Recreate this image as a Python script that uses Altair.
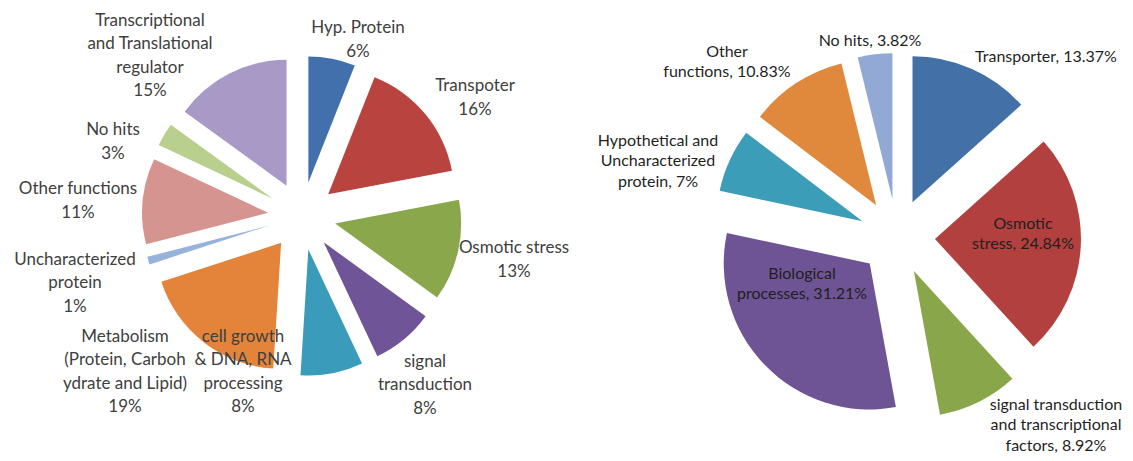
import altair as alt
import pandas as pd

# ---------------- data: left pie ----------------
LEFT_CATEGORIES = [
    "Hyp. Protein", "Transpoter", "Osmotic stress", "signal transduction",
    "cell growth & DNA, RNA processing",
    "Metabolism (Protein, Carbohydrate and Lipid)",
    "Uncharacterized protein", "Other functions", "No hits",
    "Transcriptional and Translational regulator",
]
LEFT_VALUES = [6, 16, 13, 8, 8, 19, 1, 11, 3, 15]
LEFT_LABELS = [
    "Hyp. Protein\n6%",
    "Transpoter\n16%",
    "Osmotic stress\n13%",
    "signal\ntransduction\n8%",
    "cell growth\n& DNA, RNA\nprocessing\n8%",
    "Metabolism\n(Protein, Carboh\nydrate and  Lipid)\n19%",
    "Uncharacterized\nprotein\n1%",
    "Other functions\n11%",
    "No hits\n3%",
    "Transcriptional\nand Translational\nregulator\n15%",
]

# ---------------- data: right pie ----------------
RIGHT_CATEGORIES = [
    "Transporter", "Osmotic stress",
    "signal transduction and transcriptional factors",
    "Biological processes", "Hypothetical and Uncharacterized protein",
    "Other functions", "No hits",
]
RIGHT_VALUES = [13.37, 24.84, 8.92, 31.21, 7, 10.83, 3.82]
RIGHT_LABELS = [
    "Transporter, 13.37%",
    "Osmotic\nstress, 24.84%",
    "signal transduction\nand transcriptional\nfactors, 8.92%",
    "Biological\nprocesses, 31.21%",
    "Hypothetical and\nUncharacterized\nprotein, 7%",
    "Other\nfunctions, 10.83%",
    "No hits, 3.82%",
]

# ---------------- styles / layout ----------------
LEFT_COLORS = ["#4170AD", "#B8433F", "#8AA84B", "#6F5597", "#3A9BBA",
               "#E3843A", "#97B3DB", "#D69491", "#B8CF8D", "#A999C6"]
RIGHT_COLORS = ["#4470A8", "#B2403E", "#89A74A", "#6E5494", "#3C9DB8",
                "#E0883C", "#93A9D5"]

# label block-centre offsets (px) from the pie centre
LEFT_LABEL_DX = [56, 173, 212, 123, -59, -177, -227, -224, -189, -152]
LEFT_LABEL_DY = [-176, -118, 44, 169, 156, 156, 67, -15, -74, -160]
RIGHT_LABEL_DX = [149, 126, 159, -95, -239, -170, -27]
RIGHT_LABEL_DY = [-180, -3, 188, 47, -76, -175, -196]

W, H = 1117, 445
FONT = "Lato"


def pie(cats, vals, labels, colors, ldx, ldy, cx, cy, explode, radius,
        font_size, line_h, text_color):
    df = pd.DataFrame({
        "category": cats, "value": vals, "label": labels, "color": colors,
        "idx": list(range(len(cats))), "ldx": ldx, "ldy": ldy,
        "nlines": [lab.count("\n") + 1 for lab in labels],
    })
    base = (
        alt.Chart(df)
        .transform_joinaggregate(total="sum(value)")
        .transform_window(cum="sum(value)", sort=[alt.SortField("idx", order="ascending")],
                          frame=[None, 0])
        .transform_calculate(
            t0="2*PI*(datum.cum - datum.value)/datum.total",
            t1="2*PI*datum.cum/datum.total",
        )
        .transform_calculate(mid="(datum.t0 + datum.t1)/2")
        .transform_calculate(
            px=f"{cx} + {explode}*sin(datum.mid)",
            py=f"{cy} - {explode}*cos(datum.mid)",
            lx=f"{cx} + datum.ldx",
            ly=f"{cy} + datum.ldy - (datum.nlines - 1)*{line_h}/2",
        )
    )
    arcs = base.mark_arc(radius=radius).encode(
        theta=alt.Theta("t0:Q", scale=None),
        theta2="t1:Q",
        x=alt.X("px:Q", scale=None, axis=None),
        y=alt.Y("py:Q", scale=None, axis=None),
        color=alt.Color("color:N", scale=None),
        tooltip=["category:N", "value:Q"],
    )
    text = base.mark_text(
        font=FONT, fontSize=font_size, lineHeight=line_h, lineBreak="\n",
        align="center", baseline="middle", color=text_color,
    ).encode(
        x=alt.X("lx:Q", scale=None, axis=None),
        y=alt.Y("ly:Q", scale=None, axis=None),
        text="label:N",
    )
    return [arcs, text]


left = pie(LEFT_CATEGORIES, LEFT_VALUES, LEFT_LABELS, LEFT_COLORS,
           LEFT_LABEL_DX, LEFT_LABEL_DY, cx=294, cy=208, explode=34, radius=126,
           font_size=17, line_h=23.5, text_color="#404040")
right = pie(RIGHT_CATEGORIES, RIGHT_VALUES, RIGHT_LABELS, RIGHT_COLORS,
            RIGHT_LABEL_DX, RIGHT_LABEL_DY, cx=889, cy=229, explode=38, radius=146,
            font_size=16, line_h=20.5, text_color="#1f1f1f")

chart = (
    alt.layer(*left, *right)
    .properties(width=W, height=H, padding=0, autosize="none")
    .configure_view(stroke=None)
)

chart.save("out.html", embed_options={"renderer": "svg", "actions": False})
